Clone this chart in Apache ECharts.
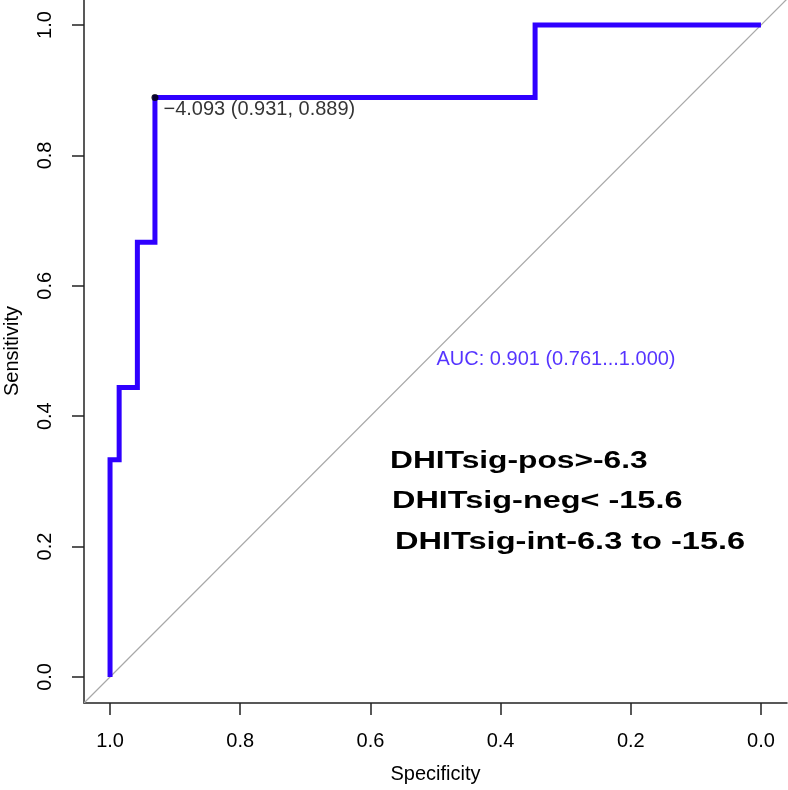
<!DOCTYPE html>
<html><head><meta charset="utf-8">
<script src="https://cdn.jsdelivr.net/npm/echarts@6/dist/echarts.min.js"></script>
<style>html,body{margin:0;padding:0;background:#fff}#c{width:788px;height:790px}</style>
</head><body><div id="c"></div>
<script>
// ROC curve (specificity, sensitivity) step points
const specificity = [1.000, 1.000, 0.986, 0.986, 0.958, 0.958, 0.931, 0.931, 0.347, 0.347, 0.000];
const sensitivity = [0.000, 0.333, 0.333, 0.444, 0.444, 0.667, 0.667, 0.889, 0.889, 1.000, 1.000];
const bestPoint = [0.931, 0.889];
const bestLabel = '\u22124.093 (0.931, 0.889)';
const aucPoint = [0.5, 0.5];
const aucLabel = 'AUC: 0.901 (0.761...1.000)';
const tickValues = [0, 0.2, 0.4, 0.6, 0.8, 1.0];
const tickLabels = ['0.0', '0.2', '0.4', '0.6', '0.8', '1.0'];
const diagX = [1.04, -0.04];
const diagY = [-0.04, 1.04];
const notes = [
  'DHITsig-pos>-6.3',
  'DHITsig-neg< -15.6',
  'DHITsig-int-6.3 to -15.6'
];

const FONT = 'Liberation Sans, Arial, sans-serif';
const chart = echarts.init(document.getElementById('c'), null, {renderer: 'canvas'});
const fmt = v => { const i = tickValues.findIndex(t => Math.abs(t - v) < 1e-6); return i >= 0 ? tickLabels[i] : ''; };

const axisCommon = {
  type: 'value', min: -0.04, max: 1.04,
  splitLine: {show: false},
  axisLine: {show: true, onZero: false, lineStyle: {color: '#222', width: 1.5}},
  axisTick: {show: true, length: 12, inside: false, customValues: tickValues, lineStyle: {color: '#222', width: 1.5}},
  nameLocation: 'middle',
  nameTextStyle: {fontFamily: FONT, fontSize: 20, color: '#000'}
};

chart.setOption({
  animation: false,
  backgroundColor: '#fff',
  grid: {left: 84, right: 1, top: -1, bottom: 87, containLabel: false, outerBoundsMode: 'none'},
  xAxis: Object.assign({}, axisCommon, {
    inverse: true, name: 'Specificity', nameGap: 61,
    axisLabel: {customValues: tickValues, formatter: fmt, margin: 28, fontFamily: FONT, fontSize: 20, color: '#000'}
  }),
  yAxis: Object.assign({}, axisCommon, {
    name: 'Sensitivity', nameGap: 62, nameRotate: 90,
    axisLabel: {customValues: tickValues, formatter: fmt, rotate: 90, margin: 29, fontFamily: FONT, fontSize: 20, color: '#000'}
  }),
  series: [
    {
      type: 'line', data: diagX.map((x, i) => [x, diagY[i]]), symbol: 'none',
      lineStyle: {color: '#a8a8a8', width: 1.2}, silent: true, z: 1
    },
    {
      type: 'line', data: specificity.map((x, i) => [x, sensitivity[i]]), symbol: 'none',
      lineStyle: {color: '#2f00ff', width: 5, join: 'miter', cap: 'butt'}, z: 2
    },
    {
      type: 'scatter', data: [bestPoint], symbol: 'circle', symbolSize: 7,
      itemStyle: {color: '#000'}, z: 3,
      label: {show: true, formatter: bestLabel, position: 'right', distance: 5, offset: [0, 12],
        fontFamily: FONT, fontSize: 20, color: '#000'}
    },
    {
      type: 'scatter', data: [aucPoint], symbolSize: 0, z: 3,
      label: {show: true, formatter: aucLabel, position: 'right', distance: 1, offset: [0, 8],
        fontFamily: FONT, fontSize: 20, color: '#2a00ff'}
    }
  ]
});

const noteY = [462, 502, 543];
const noteX = [390, 392, 395];
const noteScale = [1.35, 1.38, 1.385];
chart.setOption({
  graphic: notes.map((n, i) => ({
    type: 'text', x: noteX[i], y: noteY[i], scaleX: noteScale[i], z: 10,
    style: {
      text: n, fontFamily: FONT, fontWeight: 'bold', fontSize: 23.5, fill: '#000',
      align: 'left', verticalAlign: 'middle'
    }
  }))
});
</script></body></html>
